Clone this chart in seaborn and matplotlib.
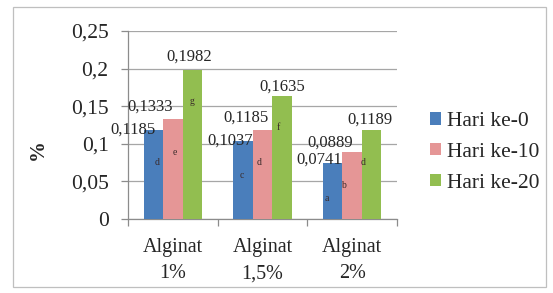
import matplotlib
matplotlib.use("Agg")
import matplotlib.pyplot as plt
import pandas as pd
import seaborn as sns
from matplotlib.patches import Rectangle
from matplotlib.ticker import FixedLocator

kategori = ["Alginat\n1%", "Alginat\n1,5%", "Alginat\n2%"]
hari = ["Hari ke-0", "Hari ke-10", "Hari ke-20"]
hari0 = [0.1185, 0.1037, 0.0741]
hari10 = [0.1333, 0.1185, 0.0889]
hari20 = [0.1982, 0.1635, 0.1189]

# notasi huruf (uji lanjut) di dalam batang + tinggi letaknya
notasi = [["d", "c", "a"], ["e", "d", "b"], ["g", "f", "d"]]
notasi_y = [[0.0745, 0.0572, 0.0279],
            [0.0878, 0.0745, 0.0452],
            [0.1556, 0.1223, 0.0745]]

warna = ["#4A7EBB", "#E59696", "#92BE50"]

# geser label nilai (pixel) supaya mirip posisi asli di Excel
geser_label = [[(-20, 0), (-13, 0), (-13, 4)],
               [(-23, 12), (-16, 12), (-22, 10)],
               [(-3, 13), (0, 9), (-2, 10)]]
geser_notasi = [[4, -1, -6], [2, -3, -9], [0, -4, -9]]

df = pd.DataFrame({
    "Perlakuan": kategori * 3,
    "Hari": [h for h in hari for _ in kategori],
    "Nilai": hari0 + hari10 + hari20,
})

sns.set_style("white")
plt.rcParams["font.family"] = ["Liberation Serif", "DejaVu Serif"]

fig = plt.figure(figsize=(5.53, 2.93), dpi=100)
ax = fig.add_axes([128 / 553, 1 - 219 / 293, 269 / 553, 188 / 293])

sns.barplot(data=df, x="Perlakuan", y="Nilai", hue="Hari", hue_order=hari,
            order=kategori, palette=warna, width=0.65, saturation=1,
            edgecolor="none", linewidth=0, ax=ax, zorder=3)

ax.set_ylim(0, 0.25)
ax.set_xlim(-0.5, 2.5)
yt = [0, 0.05, 0.1, 0.15, 0.2, 0.25]
ax.set_yticks(yt)
ax.set_yticklabels([("%g" % v).replace(".", ",") for v in yt], fontsize=15.5)
ax.yaxis.grid(True, color="#A6A6A6", lw=0.9, zorder=0)
ax.tick_params(axis="y", length=5, width=0.9, color="#8C8C8C", pad=9,
               left=True, direction="out")
ax.tick_params(axis="x", which="major", length=0, pad=14, labelsize=14.5)
ax.xaxis.set_minor_locator(FixedLocator([-0.5, 0.5, 1.5, 2.5]))
ax.tick_params(axis="x", which="minor", length=5, width=0.9, color="#8C8C8C",
               bottom=True, direction="out")
for lbl in ax.get_xticklabels():
    lbl.set_linespacing(1.5)

for s in ["top", "right"]:
    ax.spines[s].set_visible(False)
for s in ["left", "bottom"]:
    ax.spines[s].set_color("#8C8C8C")
    ax.spines[s].set_linewidth(0.9)

ax.set_xlabel("")
ax.set_ylabel("")
fig.text(38 / 553, 1 - 150 / 293, "%", rotation=90, fontsize=15,
         fontweight="bold", ha="center", va="center")

for i, cont in enumerate(ax.containers):
    for j, bar in enumerate(cont):
        cx = bar.get_x() + bar.get_width() / 2
        h = bar.get_height()
        dx, dy = geser_label[i][j]
        ax.annotate(("%.4f" % h).replace(".", ","), (cx, h), xytext=(dx, dy),
                    textcoords="offset pixels", ha="center", va="center",
                    fontsize=12, zorder=5, annotation_clip=False)
        ax.annotate(notasi[i][j], (cx, notasi_y[i][j]),
                    xytext=(geser_notasi[i][j], 0), textcoords="offset pixels",
                    ha="center", va="center", fontsize=7, color="#3A2A2A",
                    zorder=5)

handles, labels = ax.get_legend_handles_labels()
ax.legend(handles, labels, loc="center left", bbox_to_anchor=(0.778, 0.48),
          bbox_transform=fig.transFigure, frameon=False, fontsize=15.5,
          handlelength=0.5, handleheight=0.5, handletextpad=0.3,
          labelspacing=0.55, borderpad=0, borderaxespad=0)

fig.add_artist(Rectangle((13 / 553, 1 - 287 / 293), 533 / 553, 280 / 293,
                         transform=fig.transFigure, fill=False,
                         edgecolor="#BFBFBF", lw=0.9))

fig.savefig("out.png", dpi=100)
